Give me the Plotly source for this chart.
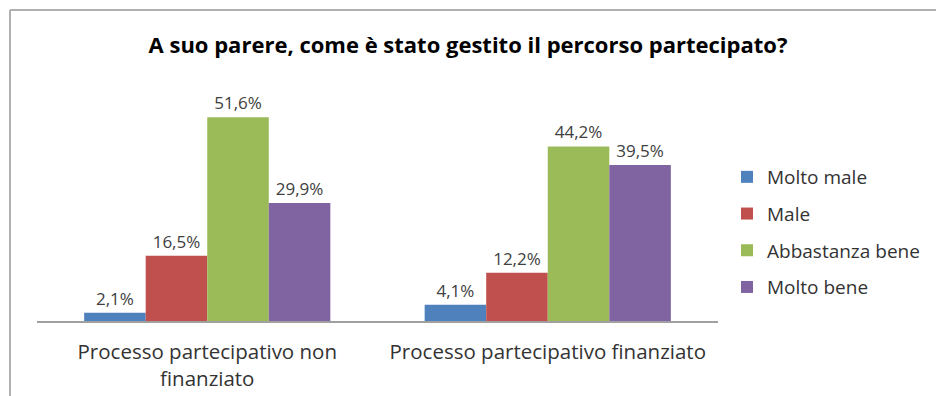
import plotly.graph_objects as go

categories = ["Processo partecipativo non<br>finanziato", "Processo partecipativo finanziato"]
series_names = ["Molto male", "Male", "Abbastanza bene", "Molto bene"]
molto_male = [2.1, 4.1]
male = [16.5, 12.2]
abbastanza_bene = [51.6, 44.2]
molto_bene = [29.9, 39.5]
colors = ["#4F81BD", "#C0504D", "#9BBB59", "#8064A2"]

FONT = "'Open Sans', 'Noto Sans', sans-serif"

fig = go.Figure()
for i, (name, vals) in enumerate(zip(series_names, [molto_male, male, abbastanza_bene, molto_bene])):
    fig.add_trace(go.Bar(
        x=categories, y=vals, name=name,
        marker=dict(color=colors[i], line=dict(width=0)),
        texttemplate="%{y:.1f}%", textposition="outside",
        textfont=dict(size=17, color="#404040", family=FONT),
        cliponaxis=False, legendgroup=name,
    ))

W, H = 936, 396
L, R, T, B = 37, 218, 84, 75
pw, ph = W - L - R, H - T - B

def px(x):
    return (x - L) / pw

def py(y):
    return (H - B - y) / ph

fig.update_layout(
    width=W, height=H,
    margin=dict(l=L, r=R, t=T, b=B, autoexpand=False),
    paper_bgcolor="white", plot_bgcolor="white",
    separators=",.",
    barmode="group", bargap=0.277, bargroupgap=0,
    font=dict(family=FONT, color="#333333"),
    title=dict(
        text="<b>A suo parere, come è stato gestito il percorso partecipato?</b>",
        x=0.5, xanchor="center", y=1 - 45 / H, yanchor="middle",
        font=dict(size=22, color="#000000", family=FONT),
    ),
    xaxis=dict(
        showline=True, linecolor="#A0A0A0", linewidth=1.5,
        ticks="", tickfont=dict(size=20.5, color="#333333", family=FONT),
        ticklabelstandoff=12, automargin=False,
    ),
    yaxis=dict(range=[0, 60], visible=False, showgrid=False, zeroline=False,
               automargin=False),
    legend=dict(
        x=px(727), xanchor="left", y=py(232), yanchor="middle",
        font=dict(size=19, color="#333333", family=FONT),
        tracegroupgap=9, itemwidth=30,
        bgcolor="rgba(0,0,0,0)",
    ),
    showlegend=True,
)

# chart frame (only top and left edges fall inside the page)
fig.add_shape(type="line", xref="paper", yref="paper",
              x0=px(10), y0=py(H + 5), x1=px(10), y1=py(10),
              line=dict(color="#B0B0B0", width=2))
fig.add_shape(type="line", xref="paper", yref="paper",
              x0=px(10), y0=py(10), x1=px(W + 5), y1=py(10),
              line=dict(color="#B0B0B0", width=2))

fig.write_html("out.html")
